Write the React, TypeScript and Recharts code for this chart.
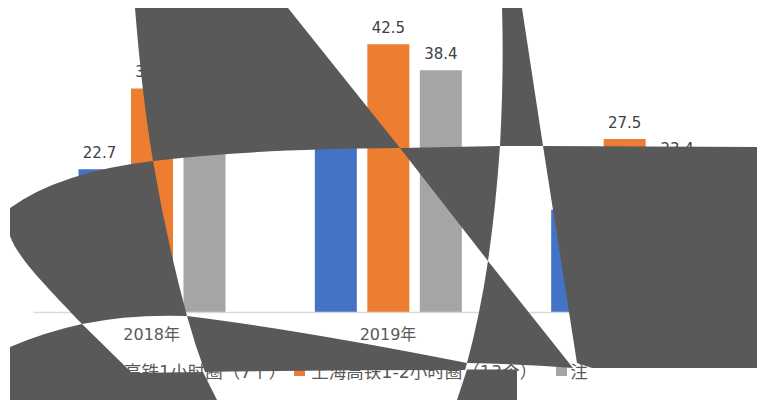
import { BarChart, Bar, XAxis, YAxis, LabelList, Legend } from 'recharts';

const years = ['2018年', '2019年', '2020年'];
const oneHour = [22.7, 30.0, 16.3];
const oneToTwoHour = [35.5, 42.5, 27.5];
const other = [31.0, 38.4, 23.4];

const seriesNames = ['上海高铁1小时圈（7个）', '上海高铁1-2小时圈（13个）', '注'];
const seriesColors = ['#4472c4', '#ed7d31', '#a5a5a5'];
const legendGaps = [8, 19, 0];

const data = years.map((year, i) => ({
  year,
  oneHour: oneHour[i],
  oneToTwoHour: oneToTwoHour[i],
  other: other[i],
}));

const FONT = '"DejaVu Sans", "Noto Sans CJK SC", sans-serif';

// the dark blob that lies over the chart in the original
const overlayPaths = [
  'M135,8 L288,8 L400,148 Q250,149 153,161 Q142,96 135,8 Z',
  'M153,161 Q60,172 10,208 L10,236 C18,258 45,285 82,324 Q130,314 187,316 Q166,238 153,161 Z',
  'M187,316 Q300,330 467,363 L465,370 Q330,370 205,372 Q195,345 187,316 Z',
  'M10,347 Q45,332 82,324 L132,373 L203,372 L217,400 L10,400 Z',
  'M400,148 L500,146 Q496,205 488,261 Z',
  'M488,261 L573,368 Q520,364 467,363 Q480,315 488,261 Z',
  'M502,8 L522,8 L543,146 L500,146 Q504,70 502,8 Z',
  'M543,146 L757,147 L757,368 L592,368 L577,363 Z',
  'M467,369.5 L517,369.5 L517,400 L457,400 Z',
];

const LegendRow = () => (
  <div style={{ display: 'flex', alignItems: 'center', fontFamily: FONT, fontSize: 17.5, color: '#595959', whiteSpace: 'nowrap' }}>
    {seriesNames.map((name, i) => (
      <div key={name} style={{ display: 'flex', alignItems: 'center', marginRight: legendGaps[i] }}>
        <span style={{ width: 11, height: 11, background: seriesColors[i], marginRight: i === 2 ? 3 : 6 }} />
        <span>{name}</span>
      </div>
    ))}
  </div>
);

const labelStyle = { fontFamily: FONT, fontSize: 15, fill: '#404040' };

export default function App() {
  return (
    <div style={{ position: 'absolute', left: 0, top: 0, width: 757, height: 400, background: '#fff' }}>
      <BarChart
        width={757}
        height={400}
        data={data}
        barGap={10.5}
        barCategoryGap={45}
        margin={{ top: 28.5, right: 14.5, left: 33.5, bottom: 35.5 }}
      >
        <XAxis
          dataKey="year"
          height={30}
          tickLine={false}
          tickMargin={10}
          axisLine={{ stroke: '#d9d9d9', strokeWidth: 1.5 }}
          tick={{ fontFamily: FONT, fontSize: 16, fill: '#595959' }}
        />
        <YAxis hide domain={[0, 45]} />
        <Legend
          content={LegendRow}
          wrapperStyle={{ position: 'absolute', left: 72, top: 358, width: 600, height: 22 }}
        />
        <Bar dataKey="oneHour" name={seriesNames[0]} fill={seriesColors[0]} isAnimationActive={false}>
          <LabelList dataKey="oneHour" position="top" offset={11} style={labelStyle} />
        </Bar>
        <Bar dataKey="oneToTwoHour" name={seriesNames[1]} fill={seriesColors[1]} isAnimationActive={false}>
          <LabelList dataKey="oneToTwoHour" position="top" offset={11} style={labelStyle} />
        </Bar>
        <Bar dataKey="other" name={seriesNames[2]} fill={seriesColors[2]} isAnimationActive={false}>
          <LabelList dataKey="other" position="top" offset={11} style={labelStyle} />
        </Bar>
      </BarChart>
      <svg width={757} height={400} style={{ position: 'absolute', left: 0, top: 0, pointerEvents: 'none' }}>
        {overlayPaths.map((d) => (
          <path key={d} d={d} fill="#595959" />
        ))}
      </svg>
    </div>
  );
}
